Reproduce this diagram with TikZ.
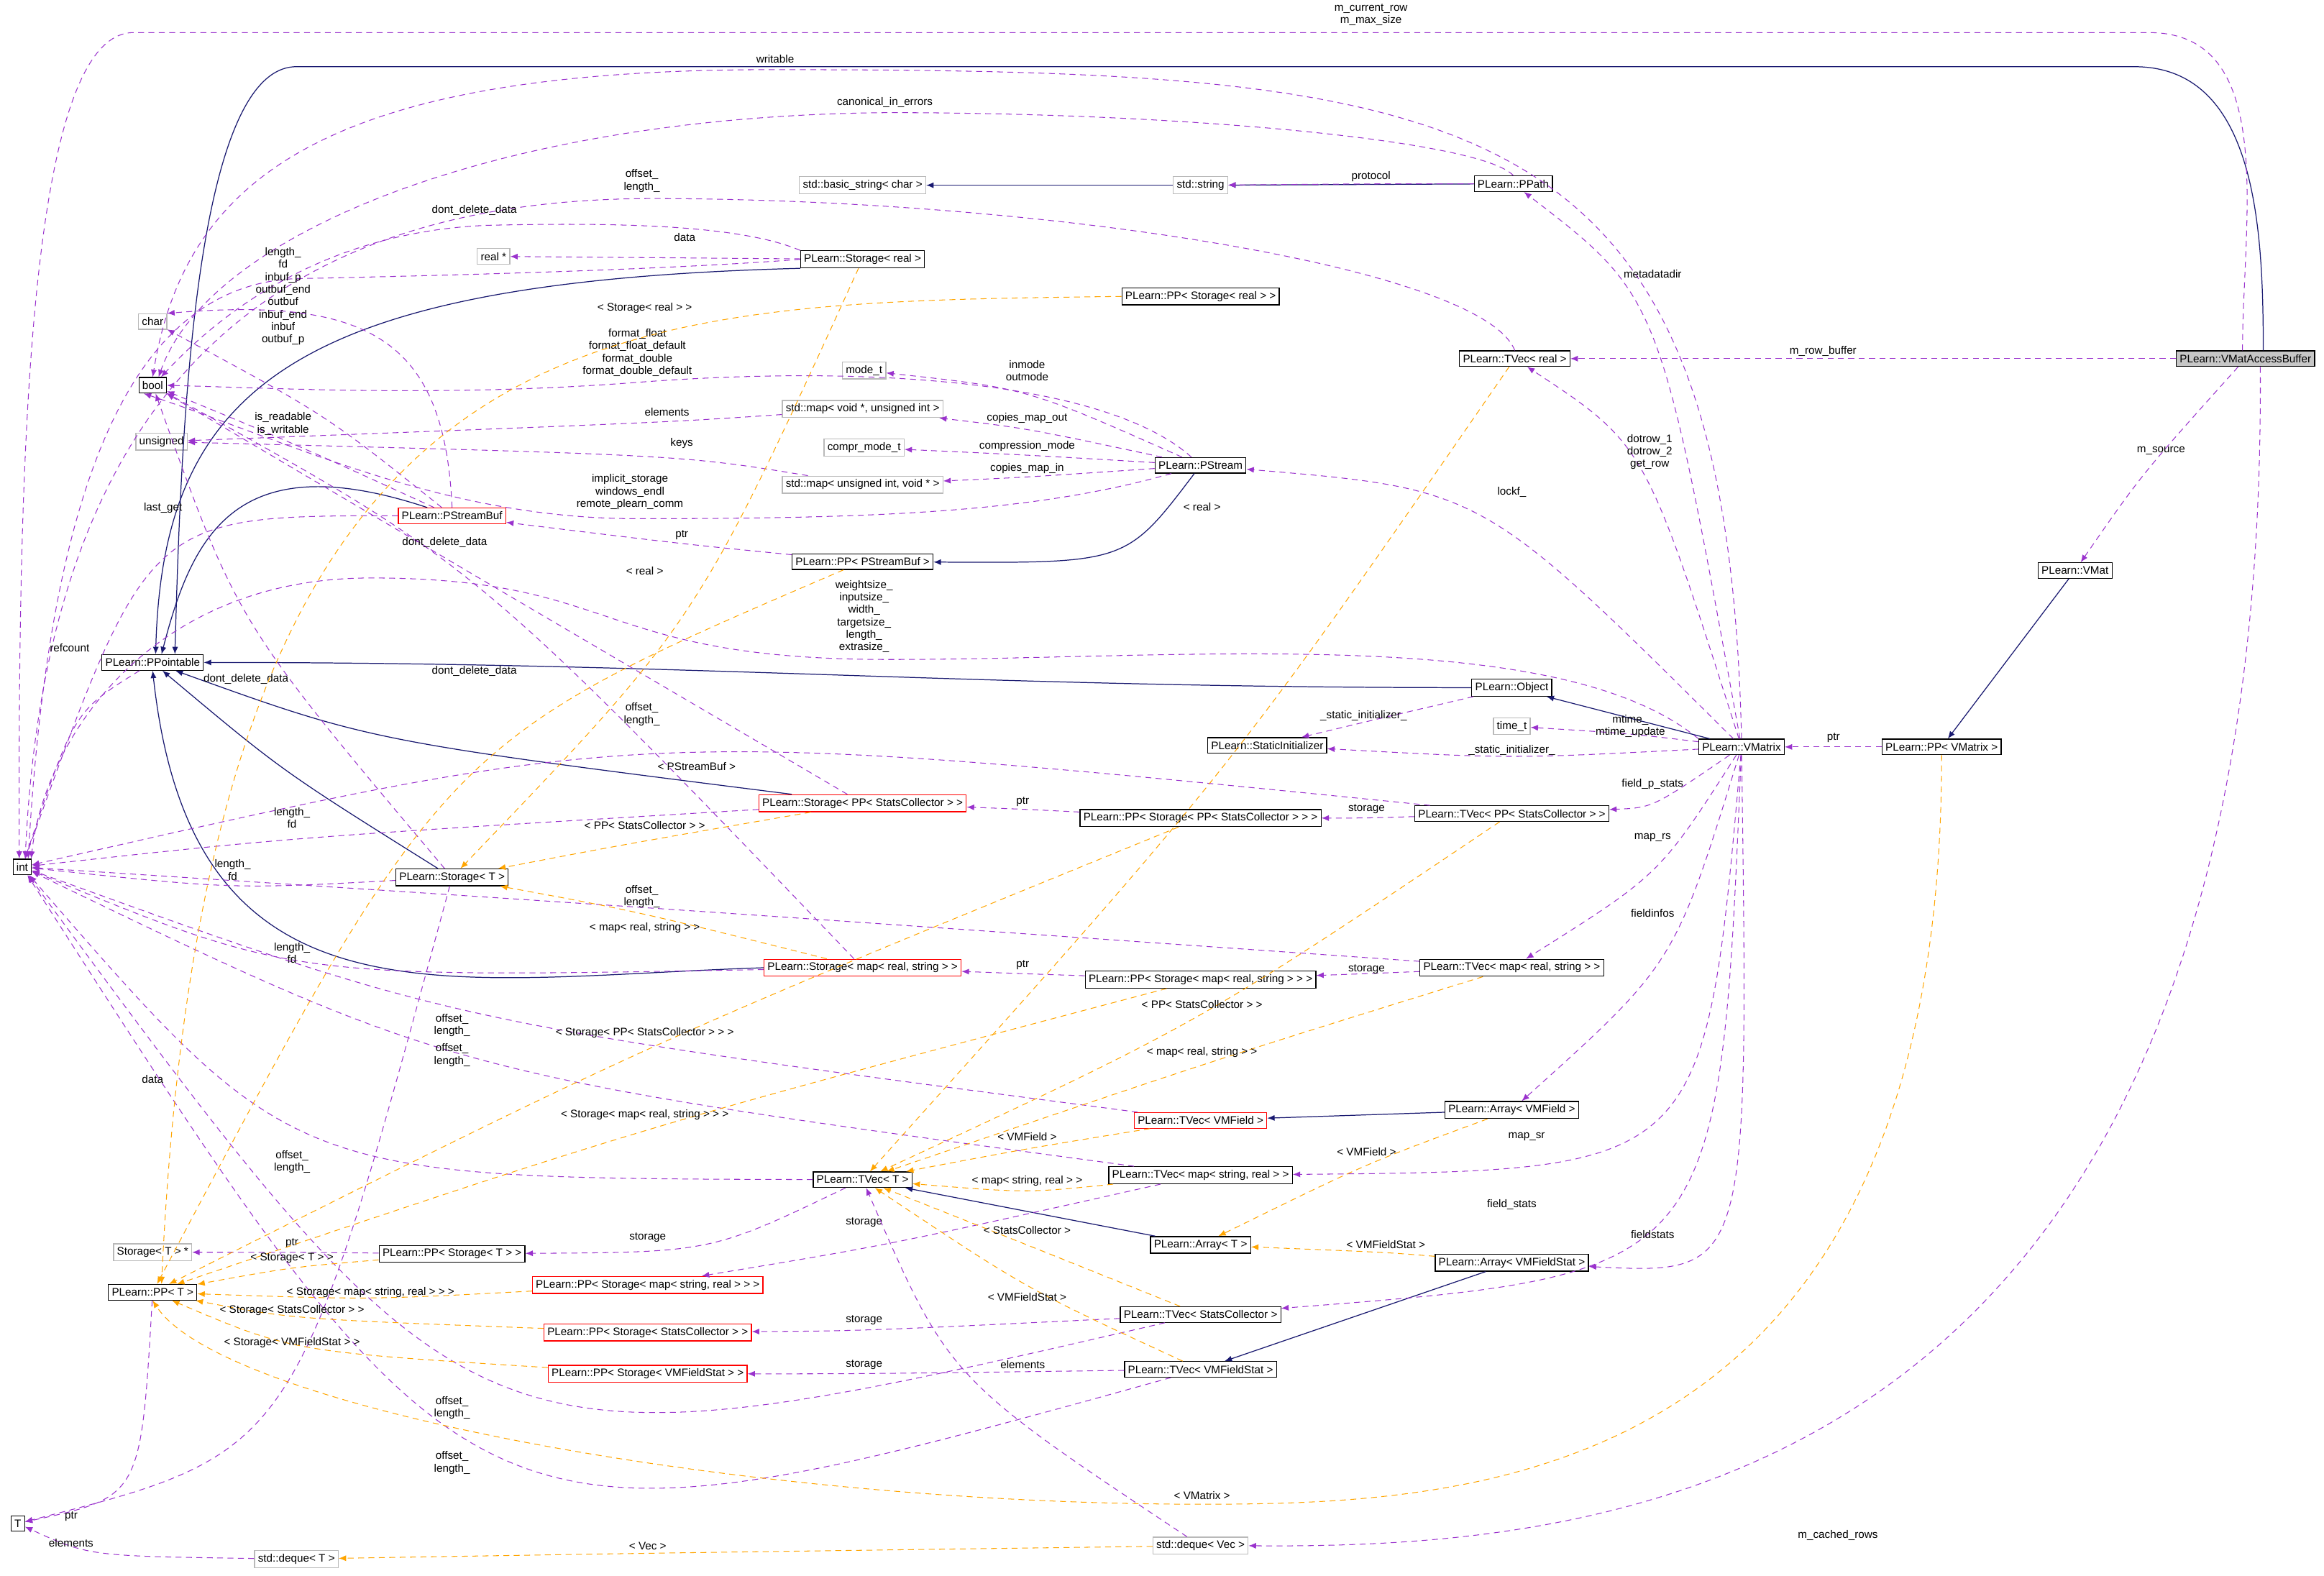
\documentclass[tikz,border=0pt]{standalone}
\usepackage{fontspec}
\setmainfont{Liberation Sans}
\usetikzlibrary{arrows.meta,calc}
\definecolor{pur}{HTML}{9A32CD}
\definecolor{nav}{HTML}{191970}
\definecolor{org}{HTML}{FFA500}
\newcommand\E[4][]{\draw[#1] (#2) .. controls (#3) .. (#4);}
\begin{document}
\begin{tikzpicture}[x=1pt,y=-1pt,font=\fontsize{7.4}{8.4}\selectfont,
 cls/.style={draw=black,fill=white,inner sep=2.3pt,minimum height=10.5pt,line width=0.6pt},
 ext/.style={cls,draw=gray!55},
 rd/.style={cls,draw=red},
 lab/.style={align=center,inner sep=0pt},
 pu/.style={draw=pur,dash pattern=on 4pt off 3pt,-{Latex[length=5pt,width=4pt]},line width=0.5pt},
 nv/.style={draw=nav,-{Latex[length=5pt,width=4pt]},line width=0.6pt},
 og/.style={draw=org,dash pattern=on 4pt off 3pt,-{Latex[length=5pt,width=4pt]},line width=0.5pt}]
\useasboundingbox (0,0) rectangle (1568,1063);
\fill[white] (0,0) rectangle (1568,1063);
% nodes
\node[cls,fill=gray!45] (vmab) at (1515,242) {PLearn::VMatAccessBuffer};
\node[cls] (vmat) at (1400,385) {PLearn::VMat};
\node[cls] (ppvmatrix) at (1310,504) {PLearn::PP< VMatrix >};
\node[cls] (vmatrix) at (1175,504) {PLearn::VMatrix};
\node[cls] (object) at (1020,464) {PLearn::Object};
\node[ext] (timet) at (1020,490) {time\_t};
\node[cls] (statinit) at (855,503) {PLearn::StaticInitializer};
\node[cls] (tvecreal) at (1022,242) {PLearn::TVec< real >};
\node[cls] (ppath) at (1021,124) {PLearn::PPath};
\node[ext] (stdstring) at (810,125) {std::string};
\node[ext] (basicstr) at (582,125) {std::basic\_string< char >};
\node[cls] (storreal) at (582,175) {PLearn::Storage< real >};
\node[cls] (ppstorreal) at (810,200) {PLearn::PP< Storage< real > >};
\node[ext] (realp) at (333,173) {real *};
\node[ext] (char) at (103,217) {char};
\node[cls] (bool) at (103,260) {bool};
\node[ext] (unsigned) at (109,298) {unsigned};
\node[ext] (modet) at (583,250) {mode\_t};
\node[ext] (mapvoid) at (582,276) {std::map< void *, unsigned int >};
\node[ext] (comprmode) at (583,302) {compr\_mode\_t};
\node[ext] (mapuint) at (582,327) {std::map< unsigned int, void * >};
\node[cls] (pstream) at (810,314) {PLearn::PStream};
\node[rd] (pstreambuf) at (305,348) {PLearn::PStreamBuf};
\node[cls] (pppstreambuf) at (582,379) {PLearn::PP< PStreamBuf >};
\node[cls] (ppointable) at (103,447) {PLearn::PPointable};
\node[cls] (int) at (15,585) {int};
\node[rd] (storppsc) at (582,542) {PLearn::Storage< PP< StatsCollector > >};
\node[cls] (ppstorppsc) at (810,552) {PLearn::PP< Storage< PP< StatsCollector > > >};
\node[cls] (tvecppsc) at (1020,549) {PLearn::TVec< PP< StatsCollector > >};
\node[cls] (stort) at (305,592) {PLearn::Storage< T >};
\node[rd] (stormaprs) at (582,653) {PLearn::Storage< map< real, string > >};
\node[cls] (ppstormaprs) at (810,661) {PLearn::PP< Storage< map< real, string > > >};
\node[cls] (tvecmaprs) at (1020,653) {PLearn::TVec< map< real, string > >};
\node[rd] (tvecvmfield) at (810,756) {PLearn::TVec< VMField >};
\node[cls] (arrvmfield) at (1020,749) {PLearn::Array< VMField >};
\node[cls] (tvect) at (582,796) {PLearn::TVec< T >};
\node[cls] (tvecmapsr) at (810,793) {PLearn::TVec< map< string, real > >};
\node[cls] (arrt) at (810,840) {PLearn::Array< T >};
\node[cls] (arrvmfs) at (1020,852) {PLearn::Array< VMFieldStat >};
\node[ext] (stortp) at (103,845) {Storage< T > *};
\node[cls] (ppstort) at (305,846) {PLearn::PP< Storage< T > >};
\node[cls] (ppt) at (103,872) {PLearn::PP< T >};
\node[rd] (ppstormapsr) at (437,867) {PLearn::PP< Storage< map< string, real > > >};
\node[rd] (ppstorsc) at (437,899) {PLearn::PP< Storage< StatsCollector > >};
\node[cls] (tvecsc) at (810,887) {PLearn::TVec< StatsCollector >};
\node[rd] (ppstorvmfs) at (437,927) {PLearn::PP< Storage< VMFieldStat > >};
\node[cls] (tvecvmfs) at (810,924) {PLearn::TVec< VMFieldStat >};
\node[cls] (T) at (12,1028) {T};
\node[ext] (dequet) at (200,1052) {std::deque< T >};
\node[ext] (dequevec) at (810,1043) {std::deque< Vec >};
% navy inheritance
\draw[nv] ([xshift=12pt]vmab.north) to[out=90,in=0] (1440,45) -- (200,45) .. controls (130,45) and (122,300) .. ([xshift=15pt]ppointable.north);
\draw[nv] (ppath) -- (stdstring);
\draw[nv] (stdstring) -- (basicstr);
\draw[nv] (storreal.south west) .. controls (200,190) and (110,260) .. ([xshift=2pt]ppointable.north);
\draw[nv] (pstreambuf) .. controls (160,300) and (130,360) .. ([xshift=6pt]ppointable.north);
\E[nv]{pstream}{760,380}{pppstreambuf}
\draw[nv] (vmatrix) -- (object);
\draw[nv] (object) to[out=180,in=0] (ppointable);
\draw[nv] (vmat) -- (ppvmatrix);
\E[nv]{storppsc}{250,500}{ppointable}
\E[nv]{stort}{190,520}{ppointable}
\draw[nv] (stormaprs.west) .. controls (300,660) and (130,700) .. (ppointable.south);
\draw[nv] (arrvmfield) -- (tvecvmfield);
\draw[nv] (arrt) -- (tvect);
\draw[nv] (arrvmfs) -- (tvecvmfs);
% purple usage
\draw[pu] ([xshift=-2pt]vmab.north) to[out=90,in=0] (1450,22) -- (90,22) .. controls (20,22) and (12,300) .. ([xshift=-2pt]int.north);
\node[lab] at (925,10) {m\_current\_row\\m\_max\_size};
\draw[pu] (vmab) -- (tvecreal); \node[lab] at (1230,237) {m\_row\_buffer};
\E[pu]{vmab}{1445,320}{vmat} \node[lab] at (1458,304) {m\_source};
\draw[pu] ([xshift=10pt]vmab.south) .. controls (1530,1000) and (1100,1045) .. (dequevec.east);
\node[lab] at (1240,1036) {m\_cached\_rows};
\draw[pu] (vmatrix.north) .. controls (1165,70) and (1000,47) .. (520,47) .. controls (220,47) and (125,120) .. (bool.north);
\node[lab] at (523,40) {writable};
\draw[pu] (ppath.north) .. controls (1000,95) and (800,76) .. (600,76) .. controls (330,78) and (140,160) .. ([xshift=4pt]bool.north);
\node[lab] at (597,69) {canonical\_in\_errors};
\E[pu]{ppath}{925,124}{stdstring} \node[lab] at (925,119) {protocol};
\draw[pu] (tvecreal.north) .. controls (1000,180) and (700,134) .. (440,134) .. controls (150,134) and (30,300) .. ([xshift=2pt]int.north);
\node[lab] at (433,122) {offset\_\\length\_};
\draw[pu] (storreal.north west) .. controls (500,152) and (420,150) .. (330,152) .. controls (220,156) and (150,210) .. ([xshift=-4pt]bool.north east);
\node[lab] at (320,142) {dont\_delete\_data};
\draw[pu] (storreal) -- (realp); \node[lab] at (462,160) {data};
\draw[pu] (storreal.west) .. controls (450,182) and (300,186) .. (200,188) .. controls (100,192) and (35,300) .. ([xshift=4pt]int.north);
\node[lab] at (191,200) {length\_\\fd\\inbuf\_p\\outbuf\_end\\outbuf\\inbuf\_end\\inbuf\\outbuf\_p};
\draw[pu] (pstreambuf.north) .. controls (300,230) and (250,200) .. (char.north east);
\E[pu]{pstreambuf}{220,280}{char}
\E[pu]{pstreambuf}{200,300}{bool}
\node[lab] at (191,286) {is\_readable\\is\_writable};
\E[pu]{pstreambuf}{100,348}{int} \node[lab] at (110,343) {last\_get};
\draw[pu] (pstream) .. controls (750,260) and (600,245) .. (430,258) .. controls (300,268) and (190,262) .. (bool.east);
\node[lab] at (430,238) {format\_float\\format\_float\_default\\format\_double\\format\_double\_default};
\E[pu]{pstream}{693,262}{modet} \node[lab] at (693,250) {inmode\\outmode};
\E[pu]{pstream}{693,289}{mapvoid} \node[lab] at (693,282) {copies\_map\_out};
\E[pu]{mapvoid}{450,285}{unsigned} \node[lab] at (450,278) {elements};
\E[pu]{pstream}{693,307}{comprmode} \node[lab] at (693,301) {compression\_mode};
\E[pu]{pstream}{693,322}{mapuint} \node[lab] at (693,316) {copies\_map\_in};
\E[pu]{mapuint}{460,307}{unsigned} \node[lab] at (460,299) {keys};
\draw[pu] (pstream) .. controls (700,345) and (600,350) .. (430,350) .. controls (300,350) and (200,300) .. ([xshift=-6pt]bool.south);
\node[lab] at (425,332) {implicit\_storage\\windows\_endl\\remote\_plearn\_comm};
\E[pu]{pppstreambuf}{460,367}{pstreambuf} \node[lab] at (460,361) {ptr};
\E[pu]{vmatrix}{1120,200}{ppath} \node[lab] at (1115,185) {metadatadir};
\E[pu]{vmatrix}{1110,300}{tvecreal} \node[lab] at (1113,305) {dotrow\_1\\dotrow\_2\\get\_row};
\E[pu]{vmatrix}{1000,330}{pstream} \node[lab] at (1020,332) {lockf\_};
\draw[pu] (vmatrix.north west) .. controls (1050,420) and (800,445) .. (600,445) .. controls (400,445) and (420,390) .. (250,390) .. controls (100,390) and (30,500) .. ([xshift=6pt]int.north);
\node[lab] at (583,416) {weightsize\_\\inputsize\_\\width\_\\targetsize\_\\length\_\\extrasize\_};
\E[pu]{vmatrix}{1100,495}{timet} \node[lab] at (1100,490) {mtime\_\\mtime\_update};
\E[pu]{vmatrix}{1020,512}{statinit} \node[lab] at (1020,506) {\_static\_initializer\_};
\E[pu]{object}{930,485}{statinit} \node[lab] at (920,483) {\_static\_initializer\_};
\draw[pu] (ppvmatrix) -- (vmatrix); \node[lab] at (1237,498) {ptr};
\E[pu]{vmatrix}{1115,545}{tvecppsc} \node[lab] at (1115,529) {field\_p\_stats};
\E[pu]{vmatrix}{1120,590}{tvecmaprs} \node[lab] at (1115,565) {map\_rs};
\E[pu]{vmatrix}{1130,650}{arrvmfield} \node[lab] at (1115,616) {fieldinfos};
\E[pu]{vmatrix}{1150,790}{tvecmapsr} \node[lab] at (1030,767) {map\_sr};
\E[pu]{vmatrix}{1160,860}{tvecsc} \node[lab] at (1020,813) {field\_stats};
\E[pu]{vmatrix}{1180,860}{arrvmfs} \node[lab] at (1115,833) {fieldstats};
\E[pu]{tvecppsc}{922,552}{ppstorppsc} \node[lab] at (922,546) {storage};
\E[pu]{tvecppsc}{433,490}{int} \node[lab] at (433,482) {offset\_\\length\_};
\E[pu]{ppstorppsc}{690,546}{storppsc} \node[lab] at (690,541) {ptr};
\E[pu]{storppsc}{197,565}{int} \node[lab] at (197,552) {length\_\\fd};
\E[pu]{storppsc}{340,400}{bool} \node[lab] at (320,453) {dont\_delete\_data};
\E[pu]{stort}{157,600}{int} \node[lab] at (157,587) {length\_\\fd};
\E[pu]{stort}{160,420}{bool} \node[lab] at (166,458) {dont\_delete\_data};
\E[pu]{stort}{200,980}{T} \node[lab] at (103,728) {data};
\E[pu]{stormaprs}{197,660}{int} \node[lab] at (197,643) {length\_\\fd};
\E[pu]{stormaprs}{320,380}{bool} \node[lab] at (300,366) {dont\_delete\_data};
\E[pu]{ppstormaprs}{690,657}{stormaprs} \node[lab] at (690,651) {ptr};
\E[pu]{tvecmaprs}{922,657}{ppstormaprs} \node[lab] at (922,654) {storage};
\E[pu]{tvecmaprs}{433,612}{int} \node[lab] at (433,605) {offset\_\\length\_};
\E[pu]{tvecvmfield}{305,690}{int} \node[lab] at (305,692) {offset\_\\length\_};
\E[pu]{tvecmapsr}{305,725}{int} \node[lab] at (305,712) {offset\_\\length\_};
\E[pu]{tvect}{197,795}{int} \node[lab] at (197,784) {offset\_\\length\_};
\E[pu]{tvect}{480,845}{ppstort} \node[lab] at (437,835) {storage};
\E[pu]{ppstort}{197,845}{stortp} \node[lab] at (197,839) {ptr};
\E[pu]{tvecmapsr}{600,840}{ppstormapsr} \node[lab] at (583,825) {storage};
\E[pu]{tvecsc}{583,898}{ppstorsc} \node[lab] at (583,891) {storage};
\E[pu]{tvecvmfs}{583,927}{ppstorvmfs} \node[lab] at (583,921) {storage};
\E[pu]{tvecsc}{320,1000}{int} \node[lab] at (305,950) {offset\_\\length\_};
\E[pu]{tvecvmfs}{320,1060}{int} \node[lab] at (305,987) {offset\_\\length\_};
\E[pu]{ppt}{95,1010}{T} \node[lab] at (48,1023) {ptr};
\E[pu]{dequet}{60,1050}{T} \node[lab] at (48,1041) {elements};
\E[pu]{dequevec}{640,930}{tvect} \node[lab] at (690,921) {elements};
\E[pu]{ppointable}{50,480}{int} \node[lab] at (47,437) {refcount};
% orange templates
\draw[og] (ppstorreal.west) .. controls (400,205) and (140,200) .. ([xshift=6pt]ppt.north);
\node[lab] at (435,208) {< Storage< real > >};
\E[og]{tvecreal}{830,520}{tvect} \node[lab] at (811,342) {< real >};
\E[og]{storreal}{470,420}{stort} \node[lab] at (435,385) {< real >};
\E[og]{pppstreambuf}{300,500}{ppt} \node[lab] at (470,517) {< PStreamBuf >};
\E[og]{storppsc}{420,570}{stort} \node[lab] at (435,557) {< PP< StatsCollector > >};
\E[og]{tvecppsc}{810,690}{tvect} \node[lab] at (811,678) {< PP< StatsCollector > >};
\E[og]{ppstorppsc}{435,705}{ppt} \node[lab] at (435,697) {< Storage< PP< StatsCollector > > >};
\E[og]{stormaprs}{430,615}{stort} \node[lab] at (435,626) {< map< real, string > >};
\E[og]{tvecmaprs}{820,715}{tvect} \node[lab] at (811,710) {< map< real, string > >};
\E[og]{ppstormaprs}{435,760}{ppt} \node[lab] at (435,752) {< Storage< map< real, string > > >};
\E[og]{tvecvmfield}{693,775}{tvect} \node[lab] at (693,767) {< VMField >};
\E[og]{arrvmfield}{922,785}{arrt} \node[lab] at (922,777) {< VMField >};
\E[og]{tvecmapsr}{693,805}{tvect} \node[lab] at (693,797) {< map< string, real > >};
\E[og]{tvecsc}{693,840}{tvect} \node[lab] at (693,830) {< StatsCollector >};
\E[og]{tvecvmfs}{693,870}{tvect} \node[lab] at (693,875) {< VMFieldStat >};
\E[og]{arrvmfs}{935,845}{arrt} \node[lab] at (935,840) {< VMFieldStat >};
\E[og]{ppstort}{197,855}{ppt} \node[lab] at (197,849) {< Storage< T > >};
\E[og]{ppstormapsr}{250,877}{ppt} \node[lab] at (250,872) {< Storage< map< string, real > > >};
\E[og]{ppstorsc}{197,890}{ppt} \node[lab] at (197,884) {< Storage< StatsCollector > >};
\E[og]{ppstorvmfs}{197,912}{ppt} \node[lab] at (197,906) {< Storage< VMFieldStat > >};
\draw[og] (ppvmatrix.south) .. controls (1310,1000) and (1000,1015) .. (811,1015) .. controls (500,1015) and (150,950) .. (ppt.south);
\node[lab] at (811,1009) {< VMatrix >};
\E[og]{dequevec}{437,1048}{dequet} \node[lab] at (437,1043) {< Vec >};
\end{tikzpicture}
\end{document}
